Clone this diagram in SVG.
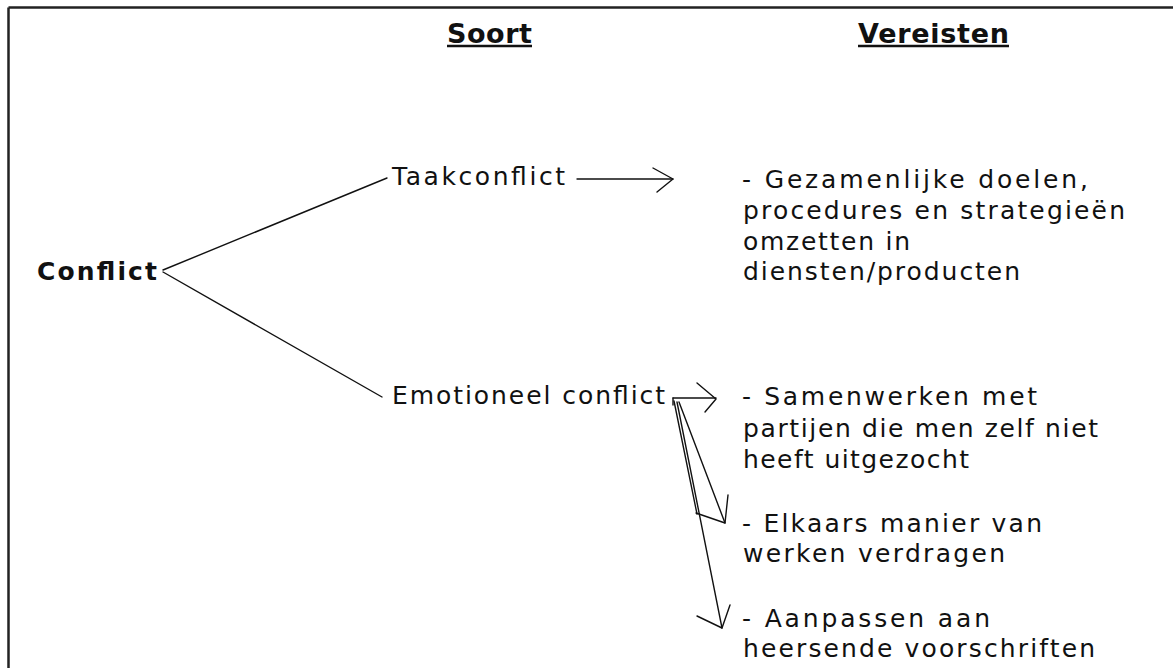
<svg xmlns="http://www.w3.org/2000/svg" width="1173" height="668" viewBox="0 0 1173 668">
  <style>
    .frame { stroke: #222; stroke-width: 2.5; fill: none; }
    .hdr { font-family: "DejaVu Sans", Verdana, sans-serif; font-weight: bold; font-size: 27px; fill: #111; }
    .bold { font-family: "DejaVu Sans", Verdana, sans-serif; font-weight: bold; font-size: 25px; fill: #111; }
    .txt { font-family: "DejaVu Sans", Verdana, sans-serif; font-size: 25px; fill: #111; }
    .ul { stroke: #111; stroke-width: 2.5; }
    .con { stroke: #111; stroke-width: 1.4; fill: none; stroke-linecap: round; stroke-linejoin: round; }
  </style>
  <rect width="1173" height="668" fill="#ffffff"/>
  <g id="frame">
    <line class="frame" x1="8.5" y1="7.5" x2="1173" y2="7.5"/>
    <line class="frame" x1="8.5" y1="7.5" x2="8.5" y2="668"/>
  </g>
  <g id="header-soort">
    <text class="hdr" x="447" y="43" textLength="85" lengthAdjust="spacing">Soort</text>
    <line class="ul" x1="447" y1="46" x2="532" y2="46"/>
  </g>
  <g id="header-vereisten">
    <text class="hdr" x="858" y="43" textLength="151" lengthAdjust="spacing">Vereisten</text>
    <line class="ul" x1="858" y1="46" x2="1009" y2="46"/>
  </g>
  <g id="conflict">
    <text class="bold" x="37" y="280" textLength="120" lengthAdjust="spacing">Conflict</text>
  </g>
  <g id="taakconflict">
    <text class="txt" x="392" y="185" textLength="173" lengthAdjust="spacing">Taakconflict</text>
  </g>
  <g id="emotioneel-conflict">
    <text class="txt" x="392" y="404" textLength="273" lengthAdjust="spacing">Emotioneel conflict</text>
  </g>
  <g id="req-taak">
    <text class="txt" x="742" y="188" textLength="346" lengthAdjust="spacing">- Gezamenlijke doelen,</text>
    <text class="txt" x="743" y="219" textLength="382" lengthAdjust="spacing">procedures en strategieën</text>
    <text class="txt" x="743" y="250" textLength="167" lengthAdjust="spacing">omzetten in</text>
    <text class="txt" x="743" y="280" textLength="277" lengthAdjust="spacing">diensten/producten</text>
  </g>
  <g id="req-samenwerken">
    <text class="txt" x="742" y="405" textLength="295" lengthAdjust="spacing">- Samenwerken met</text>
    <text class="txt" x="743" y="437" textLength="355" lengthAdjust="spacing">partijen die men zelf niet</text>
    <text class="txt" x="743" y="468" textLength="226" lengthAdjust="spacing">heeft uitgezocht</text>
  </g>
  <g id="req-elkaars">
    <text class="txt" x="742" y="532" textLength="300" lengthAdjust="spacing">- Elkaars manier van</text>
    <text class="txt" x="743" y="562" textLength="262" lengthAdjust="spacing">werken verdragen</text>
  </g>
  <g id="req-aanpassen">
    <text class="txt" x="742" y="627" textLength="248" lengthAdjust="spacing">- Aanpassen aan</text>
    <text class="txt" x="743" y="657" textLength="352" lengthAdjust="spacing">heersende voorschriften</text>
  </g>
  <g id="connectors">
    <line class="con" x1="163" y1="270" x2="387" y2="178"/>
    <line class="con" x1="163" y1="272" x2="382" y2="397"/>
    <line class="con" x1="577" y1="179" x2="673" y2="179"/>
    <polyline class="con" points="653,168 673,179 657,192"/>
    <line class="con" x1="673" y1="398" x2="716" y2="398"/>
    <polyline class="con" points="697,383 716,399 705,412"/>
    <line class="con" x1="673" y1="398" x2="673" y2="405"/>
    <line class="con" x1="674" y1="401" x2="697" y2="514"/>
    <line class="con" x1="677" y1="402" x2="722" y2="628"/>
    <line class="con" x1="679" y1="402" x2="725" y2="523"/>
    <polyline class="con" points="728,495 725,523 696,513"/>
    <polyline class="con" points="730,605 722,628 697,616"/>
  </g>
</svg>
